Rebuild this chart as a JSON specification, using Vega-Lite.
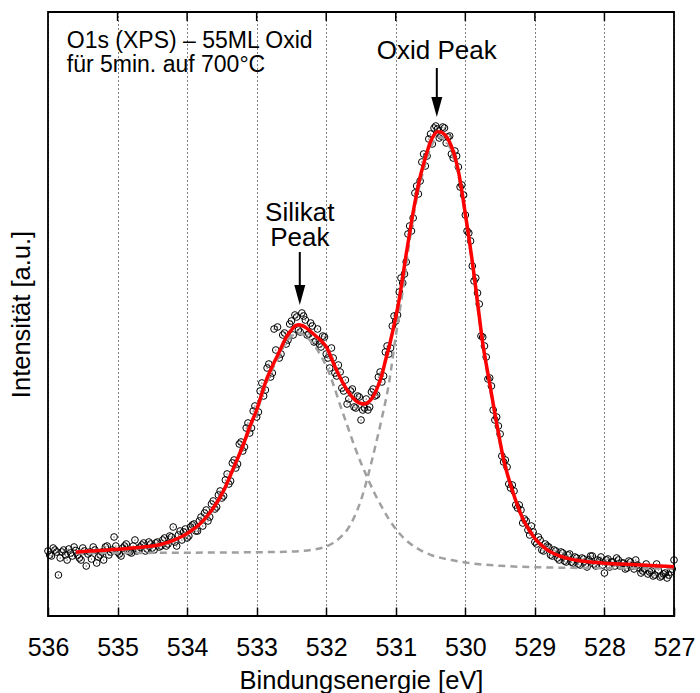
{
"$schema": "https://vega.github.io/schema/vega-lite/v6.json",
"width": 626, "height": 604,
"autosize": {"type": "none"},
"padding": {"left": 48, "top": 12, "right": 26, "bottom": 77},
"background": "white",
"config": {"view": {"stroke": "black", "strokeWidth": 1.8}, "font": "Liberation Sans"},
"datasets": {
"pts": [
{"E":536.00,"I":650},{"E":535.95,"I":600},{"E":535.90,"I":660},{"E":535.85,"I":410},{"E":535.80,"I":640},{"E":535.75,"I":610},{"E":535.70,"I":670},{"E":535.65,"I":600},{"E":535.60,"I":655},{"E":535.55,"I":580},{"E":535.50,"I":680},{"E":535.45,"I":500},{"E":535.40,"I":640},{"E":535.35,"I":690},{"E":535.30,"I":530},{"E":535.25,"I":610},{"E":535.20,"I":560},{"E":535.15,"I":700},{"E":535.10,"I":640},{"E":535.05,"I":790},{"E":535.00,"I":640},{"E":534.95,"I":600},{"E":534.90,"I":700},{"E":534.85,"I":650},{"E":534.80,"I":630},{"E":534.75,"I":760},{"E":534.70,"I":660},{"E":534.65,"I":710},{"E":534.60,"I":650},{"E":534.55,"I":740},{"E":534.50,"I":680},{"E":534.45,"I":730},{"E":534.40,"I":690},{"E":534.35,"I":760},{"E":534.30,"I":700},{"E":534.25,"I":800},{"E":534.20,"I":890},{"E":534.15,"I":700},{"E":534.10,"I":850},{"E":534.05,"I":840},{"E":534.00,"I":780},{"E":533.95,"I":890},{"E":533.90,"I":920},{"E":533.85,"I":850},{"E":533.80,"I":990},{"E":533.75,"I":1030},{"E":533.70,"I":950},{"E":533.65,"I":1120},{"E":533.60,"I":1070},{"E":533.55,"I":1210},{"E":533.50,"I":1180},{"E":533.45,"I":1360},{"E":533.40,"I":1320},{"E":533.35,"I":1530},{"E":533.30,"I":1480},{"E":533.25,"I":1720},{"E":533.20,"I":1650},{"E":533.15,"I":1880},{"E":533.10,"I":1830},{"E":533.05,"I":2050},{"E":533.00,"I":1990},{"E":532.95,"I":2250},{"E":532.90,"I":2200},{"E":532.85,"I":2480},{"E":532.80,"I":2390},{"E":532.75,"I":2870},{"E":532.70,"I":2890},{"E":532.65,"I":2620},{"E":532.60,"I":2830},{"E":532.55,"I":2760},{"E":532.50,"I":2950},{"E":532.45,"I":3010},{"E":532.40,"I":2860},{"E":532.35,"I":3030},{"E":532.30,"I":2960},{"E":532.25,"I":2820},{"E":532.20,"I":2900},{"E":532.15,"I":2750},{"E":532.10,"I":2720},{"E":532.05,"I":2800},{"E":532.00,"I":2620},{"E":531.95,"I":2480},{"E":531.90,"I":2580},{"E":531.85,"I":2400},{"E":531.80,"I":2440},{"E":531.75,"I":2250},{"E":531.70,"I":2120},{"E":531.65,"I":2250},{"E":531.60,"I":2090},{"E":531.55,"I":2200},{"E":531.50,"I":1960},{"E":531.45,"I":2080},{"E":531.40,"I":2060},{"E":531.35,"I":2240},{"E":531.30,"I":2200},{"E":531.25,"I":2390},{"E":531.20,"I":2340},{"E":531.15,"I":2640},{"E":531.10,"I":2620},{"E":531.05,"I":2900},{"E":531.00,"I":2950},{"E":530.95,"I":3240},{"E":530.90,"I":3330},{"E":530.85,"I":3540},{"E":530.80,"I":3900},{"E":530.75,"I":3980},{"E":530.70,"I":4300},{"E":530.65,"I":4350},{"E":530.60,"I":4620},{"E":530.55,"I":4600},{"E":530.50,"I":4820},{"E":530.45,"I":4880},{"E":530.40,"I":4870},{"E":530.35,"I":4800},{"E":530.30,"I":4880},{"E":530.25,"I":4790},{"E":530.20,"I":4620},{"E":530.15,"I":4650},{"E":530.10,"I":4490},{"E":530.05,"I":4310},{"E":530.00,"I":4010},{"E":529.95,"I":3830},{"E":529.90,"I":3500},{"E":529.85,"I":3380},{"E":529.80,"I":3120},{"E":529.75,"I":2790},{"E":529.70,"I":2590},{"E":529.65,"I":2380},{"E":529.60,"I":2060},{"E":529.55,"I":1990},{"E":529.50,"I":1820},{"E":529.45,"I":1540},{"E":529.40,"I":1490},{"E":529.35,"I":1280},{"E":529.30,"I":1250},{"E":529.25,"I":1080},{"E":529.20,"I":1060},{"E":529.15,"I":970},{"E":529.10,"I":860},{"E":529.05,"I":900},{"E":529.00,"I":740},{"E":528.95,"I":790},{"E":528.90,"I":660},{"E":528.85,"I":720},{"E":528.80,"I":690},{"E":528.75,"I":600},{"E":528.70,"I":650},{"E":528.65,"I":560},{"E":528.60,"I":630},{"E":528.55,"I":540},{"E":528.50,"I":620},{"E":528.45,"I":530},{"E":528.40,"I":580},{"E":528.35,"I":510},{"E":528.30,"I":570},{"E":528.25,"I":490},{"E":528.20,"I":600},{"E":528.15,"I":520},{"E":528.10,"I":560},{"E":528.05,"I":590},{"E":528.00,"I":430},{"E":527.95,"I":570},{"E":527.90,"I":540},{"E":527.85,"I":500},{"E":527.80,"I":560},{"E":527.75,"I":530},{"E":527.70,"I":470},{"E":527.65,"I":550},{"E":527.60,"I":500},{"E":527.55,"I":560},{"E":527.50,"I":480},{"E":527.45,"I":450},{"E":527.40,"I":520},{"E":527.35,"I":440},{"E":527.30,"I":400},{"E":527.25,"I":520},{"E":527.20,"I":390},{"E":527.15,"I":420},{"E":527.10,"I":380},{"E":527.05,"I":440},{"E":527.00,"I":560},
{"E":535.975,"I":610},{"E":535.925,"I":680},{"E":535.875,"I":640},{"E":535.825,"I":580},{"E":535.775,"I":660},{"E":535.725,"I":560},{"E":535.675,"I":630},{"E":535.625,"I":690},{"E":535.575,"I":610},{"E":535.525,"I":560},{"E":535.475,"I":650},{"E":535.425,"I":620},{"E":535.375,"I":570},{"E":535.325,"I":660},{"E":535.275,"I":590},{"E":535.225,"I":640},{"E":535.175,"I":690},{"E":535.125,"I":610},{"E":535.075,"I":660},{"E":535.025,"I":700},{"E":534.975,"I":620},{"E":534.925,"I":680},{"E":534.875,"I":720},{"E":534.825,"I":640},{"E":534.775,"I":700},{"E":534.725,"I":650},{"E":534.675,"I":690},{"E":534.625,"I":730},{"E":534.575,"I":670},{"E":534.525,"I":720},{"E":534.475,"I":660},{"E":534.425,"I":740},{"E":534.375,"I":700},{"E":534.325,"I":780},{"E":534.275,"I":720},{"E":534.225,"I":790},{"E":534.175,"I":740},{"E":534.125,"I":810},{"E":534.075,"I":760},{"E":534.025,"I":870},{"E":533.975,"I":800},{"E":533.925,"I":910},{"E":533.875,"I":850},{"E":533.825,"I":950},{"E":533.775,"I":900},{"E":533.725,"I":1060},{"E":533.675,"I":990},{"E":533.625,"I":1150},{"E":533.575,"I":1090},{"E":533.525,"I":1250},{"E":533.475,"I":1200},{"E":533.425,"I":1420},{"E":533.375,"I":1350},{"E":533.325,"I":1560},{"E":533.275,"I":1520},{"E":533.225,"I":1740},{"E":533.175,"I":1690},{"E":533.125,"I":1930},{"E":533.075,"I":1880},{"E":533.025,"I":2100},{"E":532.975,"I":2040},{"E":532.925,"I":2330},{"E":532.875,"I":2260},{"E":532.825,"I":2520},{"E":532.775,"I":2430},{"E":532.725,"I":2660},{"E":532.675,"I":2580},{"E":532.625,"I":2810},{"E":532.575,"I":2720},{"E":532.525,"I":2920},{"E":532.475,"I":2810},{"E":532.425,"I":2990},{"E":532.375,"I":2840},{"E":532.325,"I":3000},{"E":532.275,"I":2810},{"E":532.225,"I":2930},{"E":532.175,"I":2740},{"E":532.125,"I":2870},{"E":532.075,"I":2690},{"E":532.025,"I":2790},{"E":531.975,"I":2580},{"E":531.925,"I":2680},{"E":531.875,"I":2430},{"E":531.825,"I":2510},{"E":531.775,"I":2280},{"E":531.725,"I":2360},{"E":531.675,"I":2170},{"E":531.625,"I":2270},{"E":531.575,"I":2080},{"E":531.525,"I":2190},{"E":531.475,"I":2060},{"E":531.425,"I":2170},{"E":531.375,"I":2090},{"E":531.325,"I":2270},{"E":531.275,"I":2210},{"E":531.225,"I":2440},{"E":531.175,"I":2400},{"E":531.125,"I":2700},{"E":531.075,"I":2680},{"E":531.025,"I":3000},{"E":530.975,"I":3010},{"E":530.925,"I":3380},{"E":530.875,"I":3420},{"E":530.825,"I":3820},{"E":530.775,"I":3850},{"E":530.725,"I":4230},{"E":530.675,"I":4220},{"E":530.625,"I":4540},{"E":530.575,"I":4500},{"E":530.525,"I":4770},{"E":530.475,"I":4720},{"E":530.425,"I":4900},{"E":530.375,"I":4780},{"E":530.325,"I":4890},{"E":530.275,"I":4730},{"E":530.225,"I":4800},{"E":530.175,"I":4580},{"E":530.125,"I":4600},{"E":530.075,"I":4290},{"E":530.025,"I":4210},{"E":529.975,"I":3850},{"E":529.925,"I":3750},{"E":529.875,"I":3350},{"E":529.825,"I":3230},{"E":529.775,"I":2800},{"E":529.725,"I":2700},{"E":529.675,"I":2370},{"E":529.625,"I":2300},{"E":529.575,"I":1960},{"E":529.525,"I":1900},{"E":529.475,"I":1600},{"E":529.425,"I":1560},{"E":529.375,"I":1320},{"E":529.325,"I":1310},{"E":529.275,"I":1110},{"E":529.225,"I":1110},{"E":529.175,"I":930},{"E":529.125,"I":950},{"E":529.075,"I":810},{"E":529.025,"I":840},{"E":528.975,"I":720},{"E":528.925,"I":760},{"E":528.875,"I":650},{"E":528.825,"I":700},{"E":528.775,"I":610},{"E":528.725,"I":660},{"E":528.675,"I":580},{"E":528.625,"I":640},{"E":528.575,"I":550},{"E":528.525,"I":610},{"E":528.475,"I":540},{"E":528.425,"I":590},{"E":528.375,"I":520},{"E":528.325,"I":580},{"E":528.275,"I":510},{"E":528.225,"I":560},{"E":528.175,"I":600},{"E":528.125,"I":500},{"E":528.075,"I":550},{"E":528.025,"I":510},{"E":527.975,"I":560},{"E":527.925,"I":490},{"E":527.875,"I":540},{"E":527.825,"I":580},{"E":527.775,"I":500},{"E":527.725,"I":530},{"E":527.675,"I":480},{"E":527.625,"I":540},{"E":527.575,"I":470},{"E":527.525,"I":510},{"E":527.475,"I":430},{"E":527.425,"I":470},{"E":527.375,"I":420},{"E":527.325,"I":450},{"E":527.275,"I":410},{"E":527.225,"I":460},{"E":527.175,"I":400},{"E":527.125,"I":430},{"E":527.075,"I":410},{"E":527.025,"I":470}
],
"fit": [
{"E":535.60,"I":640},{"E":535.50,"I":644},{"E":535.40,"I":649},{"E":535.30,"I":653},{"E":535.20,"I":658},{"E":535.10,"I":663},{"E":535.00,"I":667},{"E":534.90,"I":673},{"E":534.80,"I":679},{"E":534.70,"I":685},{"E":534.60,"I":692},{"E":534.50,"I":700},{"E":534.40,"I":713},{"E":534.30,"I":732},{"E":534.20,"I":757},{"E":534.10,"I":787},{"E":534.05,"I":805},{"E":534.00,"I":825},{"E":533.95,"I":848},{"E":533.90,"I":873},{"E":533.85,"I":900},{"E":533.80,"I":932},{"E":533.75,"I":968},{"E":533.70,"I":1010},{"E":533.65,"I":1055},{"E":533.60,"I":1105},{"E":533.55,"I":1160},{"E":533.50,"I":1222},{"E":533.45,"I":1290},{"E":533.40,"I":1370},{"E":533.35,"I":1452},{"E":533.30,"I":1535},{"E":533.25,"I":1615},{"E":533.20,"I":1700},{"E":533.15,"I":1795},{"E":533.10,"I":1893},{"E":533.05,"I":1975},{"E":533.00,"I":2060},{"E":532.95,"I":2170},{"E":532.90,"I":2280},{"E":532.85,"I":2380},{"E":532.80,"I":2460},{"E":532.75,"I":2535},{"E":532.70,"I":2605},{"E":532.65,"I":2680},{"E":532.60,"I":2755},{"E":532.55,"I":2815},{"E":532.50,"I":2860},{"E":532.45,"I":2900},{"E":532.40,"I":2912},{"E":532.35,"I":2905},{"E":532.30,"I":2888},{"E":532.25,"I":2862},{"E":532.20,"I":2830},{"E":532.15,"I":2800},{"E":532.10,"I":2770},{"E":532.05,"I":2735},{"E":532.00,"I":2693},{"E":531.95,"I":2620},{"E":531.90,"I":2535},{"E":531.85,"I":2455},{"E":531.80,"I":2385},{"E":531.75,"I":2318},{"E":531.70,"I":2260},{"E":531.65,"I":2210},{"E":531.60,"I":2170},{"E":531.55,"I":2140},{"E":531.50,"I":2125},{"E":531.45,"I":2120},{"E":531.40,"I":2135},{"E":531.35,"I":2170},{"E":531.30,"I":2227},{"E":531.25,"I":2310},{"E":531.20,"I":2410},{"E":531.15,"I":2550},{"E":531.10,"I":2680},{"E":531.05,"I":2830},{"E":531.00,"I":2990},{"E":530.95,"I":3170},{"E":530.90,"I":3390},{"E":530.85,"I":3620},{"E":530.80,"I":3830},{"E":530.75,"I":4040},{"E":530.70,"I":4225},{"E":530.65,"I":4390},{"E":530.60,"I":4520},{"E":530.55,"I":4640},{"E":530.50,"I":4745},{"E":530.45,"I":4810},{"E":530.40,"I":4843},{"E":530.35,"I":4840},{"E":530.30,"I":4815},{"E":530.25,"I":4770},{"E":530.20,"I":4695},{"E":530.15,"I":4593},{"E":530.10,"I":4450},{"E":530.05,"I":4250},{"E":530.00,"I":4020},{"E":529.95,"I":3790},{"E":529.90,"I":3545},{"E":529.85,"I":3280},{"E":529.80,"I":3000},{"E":529.75,"I":2727},{"E":529.70,"I":2520},{"E":529.65,"I":2327},{"E":529.60,"I":2125},{"E":529.55,"I":1927},{"E":529.50,"I":1740},{"E":529.45,"I":1565},{"E":529.40,"I":1430},{"E":529.35,"I":1315},{"E":529.30,"I":1205},{"E":529.25,"I":1105},{"E":529.20,"I":1015},{"E":529.15,"I":940},{"E":529.10,"I":880},{"E":529.05,"I":825},{"E":529.00,"I":775},{"E":528.95,"I":738},{"E":528.90,"I":705},{"E":528.85,"I":676},{"E":528.80,"I":652},{"E":528.75,"I":632},{"E":528.70,"I":615},{"E":528.60,"I":590},{"E":528.50,"I":571},{"E":528.40,"I":557},{"E":528.30,"I":548},{"E":528.20,"I":540},{"E":528.10,"I":534},{"E":528.00,"I":528},{"E":527.80,"I":520},{"E":527.60,"I":514},{"E":527.40,"I":507},{"E":527.20,"I":500},{"E":527.00,"I":493}
],
"comps": [
{"c":"Silikat","E":535.6,"I":634},{"c":"Silikat","E":535.2,"I":652},{"c":"Silikat","E":534.8,"I":672},{"c":"Silikat","E":534.5,"I":693},{"c":"Silikat","E":534.3,"I":725},{"c":"Silikat","E":534.1,"I":780},{"c":"Silikat","E":534.0,"I":815},{"c":"Silikat","E":533.9,"I":862},{"c":"Silikat","E":533.8,"I":920},{"c":"Silikat","E":533.7,"I":995},{"c":"Silikat","E":533.6,"I":1090},{"c":"Silikat","E":533.5,"I":1205},{"c":"Silikat","E":533.4,"I":1355},{"c":"Silikat","E":533.3,"I":1520},{"c":"Silikat","E":533.2,"I":1685},{"c":"Silikat","E":533.1,"I":1870},{"c":"Silikat","E":533.0,"I":2035},{"c":"Silikat","E":532.9,"I":2250},{"c":"Silikat","E":532.8,"I":2430},{"c":"Silikat","E":532.7,"I":2570},{"c":"Silikat","E":532.6,"I":2710},{"c":"Silikat","E":532.5,"I":2800},{"c":"Silikat","E":532.4,"I":2830},{"c":"Silikat","E":532.3,"I":2800},{"c":"Silikat","E":532.2,"I":2730},{"c":"Silikat","E":532.1,"I":2630},{"c":"Silikat","E":532.0,"I":2500},{"c":"Silikat","E":531.9,"I":2320},{"c":"Silikat","E":531.8,"I":2110},{"c":"Silikat","E":531.7,"I":1910},{"c":"Silikat","E":531.6,"I":1710},{"c":"Silikat","E":531.5,"I":1530},{"c":"Silikat","E":531.4,"I":1370},{"c":"Silikat","E":531.3,"I":1220},{"c":"Silikat","E":531.2,"I":1090},{"c":"Silikat","E":531.1,"I":970},{"c":"Silikat","E":531.0,"I":870},{"c":"Silikat","E":530.9,"I":790},{"c":"Silikat","E":530.8,"I":727},{"c":"Silikat","E":530.7,"I":680},{"c":"Silikat","E":530.6,"I":642},{"c":"Silikat","E":530.5,"I":612},{"c":"Silikat","E":530.4,"I":590},{"c":"Silikat","E":530.2,"I":560},{"c":"Silikat","E":530.0,"I":535},{"c":"Silikat","E":529.8,"I":518},{"c":"Silikat","E":529.5,"I":502},{"c":"Silikat","E":529.0,"I":488},{"c":"Silikat","E":528.5,"I":482},{"c":"Silikat","E":528.0,"I":478},{"c":"Silikat","E":527.5,"I":476},{"c":"Silikat","E":527.0,"I":475},
{"c":"Oxid","E":535.6,"I":628},{"c":"Oxid","E":535.0,"I":630},{"c":"Oxid","E":534.0,"I":633},{"c":"Oxid","E":533.0,"I":638},{"c":"Oxid","E":532.6,"I":642},{"c":"Oxid","E":532.4,"I":648},{"c":"Oxid","E":532.2,"I":662},{"c":"Oxid","E":532.0,"I":695},{"c":"Oxid","E":531.9,"I":730},{"c":"Oxid","E":531.8,"I":785},{"c":"Oxid","E":531.7,"I":860},{"c":"Oxid","E":531.6,"I":985},{"c":"Oxid","E":531.5,"I":1160},{"c":"Oxid","E":531.4,"I":1400},{"c":"Oxid","E":531.3,"I":1680},{"c":"Oxid","E":531.2,"I":1980},{"c":"Oxid","E":531.1,"I":2320},{"c":"Oxid","E":531.0,"I":2800},{"c":"Oxid","E":530.9,"I":3250},{"c":"Oxid","E":530.8,"I":3760},{"c":"Oxid","E":530.7,"I":4170},{"c":"Oxid","E":530.6,"I":4460},{"c":"Oxid","E":530.5,"I":4680},{"c":"Oxid","E":530.4,"I":4790},{"c":"Oxid","E":530.3,"I":4770},{"c":"Oxid","E":530.2,"I":4650},{"c":"Oxid","E":530.1,"I":4410},{"c":"Oxid","E":530.0,"I":3990},{"c":"Oxid","E":529.9,"I":3510},{"c":"Oxid","E":529.8,"I":2960},{"c":"Oxid","E":529.7,"I":2490},{"c":"Oxid","E":529.6,"I":2100},{"c":"Oxid","E":529.5,"I":1720},{"c":"Oxid","E":529.4,"I":1420},{"c":"Oxid","E":529.3,"I":1195},{"c":"Oxid","E":529.2,"I":1010},{"c":"Oxid","E":529.1,"I":875},{"c":"Oxid","E":529.0,"I":775},{"c":"Oxid","E":528.9,"I":705},{"c":"Oxid","E":528.8,"I":652},{"c":"Oxid","E":528.6,"I":588},{"c":"Oxid","E":528.4,"I":555},{"c":"Oxid","E":528.2,"I":538},{"c":"Oxid","E":528.0,"I":527},{"c":"Oxid","E":527.5,"I":509},{"c":"Oxid","E":527.0,"I":492}
],
"topticks": [
{"E":528,"a":6040,"b":5950},{"E":529,"a":6040,"b":5950},{"E":530,"a":6040,"b":5950},{"E":531,"a":6040,"b":5950},{"E":532,"a":6040,"b":5950},{"E":533,"a":6040,"b":5950},{"E":534,"a":6040,"b":5950},{"E":535,"a":6040,"b":5950}
],
"arrows": [
{"E":530.41,"y1":5480,"y2":5160,"h":5090},
{"E":532.38,"y1":3640,"y2":3280,"h":3210}
],
"info": [
{"E":535.73,"I":5680,"t":"O1s (XPS) – 55ML Oxid"},
{"E":535.73,"I":5443,"t":"für 5min. auf 700°C"}
],
"peaks": [
{"E":530.41,"I":5570,"t":"Oxid Peak"},
{"E":532.38,"I":3950,"t":"Silikat"},
{"E":532.38,"I":3705,"t":"Peak"}
]
},
"layer": [
{
"data": {"name": "pts"},
"mark": {"type": "point", "shape": "circle", "filled": false, "stroke": "black", "strokeWidth": 1, "size": 45, "opacity": 1},
"encoding": {
"x": {"field": "E", "type": "quantitative",
 "scale": {"domain": [527, 536], "reverse": true, "nice": false, "zero": false},
 "axis": {"values": [527,528,529,530,531,532,533,534,535,536], "format": "d", "labelFontSize": 25, "labelColor": "black", "labelFont": "Liberation Sans", "labelPadding": 28, "labelFlush": false, "tickSize": -9, "tickColor": "black", "tickWidth": 1.5, "domain": false, "grid": true, "gridColor": "black", "gridDash": [1, 3], "gridWidth": 1, "gridOpacity": 1, "title": "Bindungsenergie [eV]", "titleFont": "Liberation Sans", "titleFontSize": 25.5, "titleFontWeight": "normal", "titleColor": "black", "titlePadding": 8}},
"y": {"field": "I", "type": "quantitative",
 "scale": {"domain": [0, 6040], "nice": false, "zero": false},
 "axis": {"title": "Intensität [a.u.]", "labels": false, "ticks": false, "domain": false, "grid": false, "titleFont": "Liberation Sans", "titleFontSize": 25.5, "titleFontWeight": "normal", "titleColor": "black", "titlePadding": 14}}
}
},
{
"data": {"name": "pts"},
"mark": {"type": "point", "shape": "circle", "filled": true, "color": "black", "size": 1.5, "opacity": 1},
"encoding": {"x": {"field": "E", "type": "quantitative"}, "y": {"field": "I", "type": "quantitative"}}
},
{
"data": {"name": "comps"},
"mark": {"type": "line", "color": "#a0a0a0", "strokeWidth": 2.5, "strokeDash": [7, 5], "interpolate": "monotone"},
"encoding": {"x": {"field": "E", "type": "quantitative"}, "y": {"field": "I", "type": "quantitative"}, "detail": {"field": "c"}}
},
{
"data": {"name": "fit"},
"mark": {"type": "line", "color": "#ff0000", "strokeWidth": 3.5, "interpolate": "monotone"},
"encoding": {"x": {"field": "E", "type": "quantitative"}, "y": {"field": "I", "type": "quantitative"}}
},
{
"data": {"name": "topticks"},
"mark": {"type": "rule", "color": "black", "strokeWidth": 1.5},
"encoding": {"x": {"field": "E", "type": "quantitative"}, "y": {"field": "a", "type": "quantitative"}, "y2": {"field": "b"}}
},
{
"data": {"name": "arrows"},
"mark": {"type": "rule", "color": "black", "strokeWidth": 2},
"encoding": {"x": {"field": "E", "type": "quantitative"}, "y": {"field": "y1", "type": "quantitative"}, "y2": {"field": "y2"}}
},
{
"data": {"name": "arrows"},
"mark": {"type": "point", "shape": "M-0.55,-1L0.55,-1L0,1Z", "filled": true, "color": "black", "size": 400, "opacity": 1},
"encoding": {"x": {"field": "E", "type": "quantitative"}, "y": {"field": "h", "type": "quantitative"}}
},
{
"data": {"name": "info"},
"mark": {"type": "text", "align": "left", "baseline": "alphabetic", "fontSize": 23, "font": "Liberation Sans", "color": "black"},
"encoding": {"x": {"field": "E", "type": "quantitative"}, "y": {"field": "I", "type": "quantitative"}, "text": {"field": "t"}}
},
{
"data": {"name": "peaks"},
"mark": {"type": "text", "align": "center", "baseline": "alphabetic", "fontSize": 26, "font": "Liberation Sans", "color": "black"},
"encoding": {"x": {"field": "E", "type": "quantitative"}, "y": {"field": "I", "type": "quantitative"}, "text": {"field": "t"}}
}
]
}
